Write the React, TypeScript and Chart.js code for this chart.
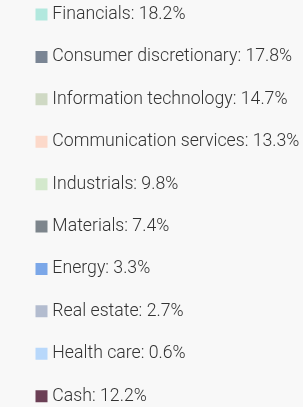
import React, { useEffect, useRef } from "react";
import { Chart, registerables } from "chart.js";

Chart.register(...registerables);

const categories = [
  "Financials",
  "Consumer discretionary",
  "Information technology",
  "Communication services",
  "Industrials",
  "Materials",
  "Energy",
  "Real estate",
  "Health care",
  "Cash",
];

const weights = [18.2, 17.8, 14.7, 13.3, 9.8, 7.4, 3.3, 2.7, 0.6, 12.2];

const colors = [
  "#b2e8de",
  "#7a8594",
  "#cfd9c4",
  "#fcd9ca",
  "#d3e8cc",
  "#7d858c",
  "#7ba7e8",
  "#b3bccf",
  "#b8d8fb",
  "#6b3f55",
];

export default function App() {
  const canvasRef = useRef<HTMLCanvasElement | null>(null);

  useEffect(() => {
    document.body.style.backgroundColor = "#f8f8f8";
    document.body.style.margin = "0";
    const canvas = canvasRef.current;
    if (!canvas) return;
    const chart = new Chart(canvas, {
      type: "doughnut",
      data: {
        labels: categories,
        datasets: [
          {
            data: weights,
            backgroundColor: colors,
            borderWidth: 0,
          },
        ],
      },
      options: {
        animation: false,
        responsive: true,
        maintainAspectRatio: false,
        layout: { padding: { left: 14.8, top: -19, right: 0, bottom: 0 } },
        plugins: {
          tooltip: { enabled: false },
          legend: {
            display: true,
            position: "top",
            align: "start",
            labels: {
              boxWidth: 4,
              boxHeight: 4,
              padding: 24.7,
              color: "#333333",
              font: { family: "Roboto", size: 17.7, weight: "300" },
              generateLabels: () =>
                categories.map((c, i) => ({
                  text: `${c}: ${weights[i].toFixed(1)}%`,
                  fillStyle: colors[i],
                  strokeStyle: colors[i],
                  lineWidth: 8,
                  fontColor: "#333333",
                  hidden: false,
                  index: i,
                })),
            },
          },
        },
      },
    });
    return () => chart.destroy();
  }, []);

  return (
    <div style={{ position: "relative", width: 303, height: 900 }}>
      <canvas ref={canvasRef} />
    </div>
  );
}
